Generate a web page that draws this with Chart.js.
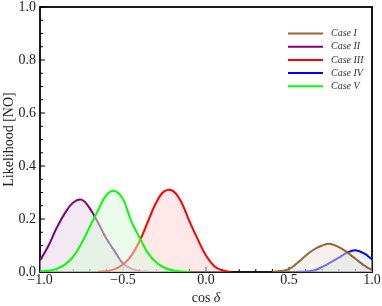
<!DOCTYPE html>
<html>
<head>
<meta charset="utf-8">
<script src="https://cdn.jsdelivr.net/npm/chart.js@4.4.1/dist/chart.umd.min.js"></script>
<style>
  html, body { margin: 0; padding: 0; background: #fff; }
  #wrap { width: 382px; height: 306px; }
</style>
</head>
<body>
<div id="wrap"><canvas id="likelihood" width="382" height="306"></canvas></div>
<script>
const cosDelta = [
  -1.00, -0.95, -0.90, -0.85, -0.80, -0.75, -0.70, -0.65, -0.60, -0.55,
  -0.50, -0.45, -0.40, -0.35, -0.30, -0.25, -0.20, -0.15, -0.10, -0.05,
   0.00,  0.05,  0.10,  0.15,  0.20,  0.25,  0.30,  0.35,  0.40,  0.45,
   0.50,  0.55,  0.60,  0.65,  0.70,  0.75,  0.80,  0.85,  0.90,  0.95,
   1.00
];

const caseI = [
  null, null, null, null, null, null, null, null, null, null,
  null, null, null, null, null, null, null, null, null, null,
  null, null, null, null, null, null, null, null, 0.001, 0.004,
  0.011, 0.034, 0.061, 0.085, 0.100, 0.106, 0.094, 0.074, 0.050, 0.026,
  0.007
];
const caseII = [
  0.044, 0.098, 0.166, 0.222, 0.262, 0.273, 0.240, 0.186, 0.126, 0.078,
  0.032, 0.013, 0.004, 0.001, 0.000, 0.000, null, null, null, null,
  null, null, null, null, null, null, null, null, null, null,
  null, null, null, null, null, null, null, null, null, null,
  null
];
const caseIII = [
  null, null, null, null, null, null, null, 0.001, 0.003, 0.011,
  0.028, 0.062, 0.117, 0.190, 0.262, 0.305, 0.306, 0.265, 0.192, 0.124,
  0.062, 0.022, 0.006, 0.001, null, null, null, null, null, null,
  null, null, null, null, null, null, null, null, null, null,
  null
];
const caseIV = [
  null, null, null, null, null, null, null, null, null, null,
  null, null, null, null, null, null, null, null, null, null,
  null, null, null, null, null, null, null, null, null, null,
  null, 0.001, 0.002, 0.006, 0.019, 0.036, 0.054, 0.073, 0.082, 0.071,
  0.048
];
const caseV = [
  0.002, 0.005, 0.012, 0.028, 0.058, 0.108, 0.171, 0.233, 0.290, 0.306,
  0.275, 0.192, 0.130, 0.072, 0.036, 0.016, 0.006, 0.002, 0.000, null,
  null, null, null, null, null, null, null, null, null, null,
  null, null, null, null, null, null, null, null, null, null,
  null
];

const caseNames = ['Case I', 'Case II', 'Case III', 'Case IV', 'Case V'];
const xMinorTicks = [-0.9, -0.8, -0.7, -0.6, -0.4, -0.3, -0.2, -0.1, 0.1, 0.2, 0.3, 0.4, 0.6, 0.7, 0.8, 0.9];
const yMinorTicks = [0.05, 0.1, 0.15, 0.25, 0.3, 0.35, 0.45, 0.5, 0.55, 0.65, 0.7, 0.75, 0.85, 0.9, 0.95];

const lineColors = ['#996633', '#800080', '#ff0000', '#0000ff', '#00ff00'];
const fillColors = [
  'rgba(237,227,217,0.5)',
  'rgba(231,213,233,0.5)',
  'rgba(255,209,209,0.5)',
  'rgba(217,231,255,0.5)',
  'rgba(217,249,217,0.5)'
];
// higher order is painted first, so green and brown fills wash over the lines below them
const drawOrder = [4, 3, 2, 5, 1];

const serif = '"Liberation Serif", "DejaVu Serif", serif';

const frameAndTicks = {
  id: 'frameAndTicks',
  beforeDatasetsDraw(chart) {
    const { ctx, chartArea: a, scales: { x, y } } = chart;
    ctx.save();
    ctx.strokeStyle = '#000';
    ctx.lineWidth = 1;
    ctx.beginPath();
    x.ticks.forEach(t => {
      const px = x.getPixelForValue(t.value);
      ctx.moveTo(px, a.bottom); ctx.lineTo(px, a.bottom - 5);
    });
    xMinorTicks.forEach(v => {
      const px = x.getPixelForValue(v);
      ctx.moveTo(px, a.bottom); ctx.lineTo(px, a.bottom - 3);
    });
    y.ticks.forEach(t => {
      const py = y.getPixelForValue(t.value);
      ctx.moveTo(a.left, py); ctx.lineTo(a.left + 5, py);
    });
    yMinorTicks.forEach(v => {
      const py = y.getPixelForValue(v);
      ctx.moveTo(a.left, py); ctx.lineTo(a.left + 3, py);
    });
    ctx.stroke();
    ctx.lineWidth = 1.8;
    ctx.strokeRect(a.left, a.top, a.right - a.left, a.bottom - a.top);
    ctx.restore();
  },
  afterDraw(chart) {
    const { ctx, chartArea: a } = chart;
    ctx.save();
    ctx.fillStyle = '#222';
    // y title
    ctx.font = '14px ' + serif;
    ctx.textAlign = 'center';
    ctx.textBaseline = 'middle';
    ctx.translate(9, (a.top + a.bottom) / 2);
    ctx.rotate(-Math.PI / 2);
    ctx.fillText('Likelihood [NO]', 0, 0);
    ctx.restore();

    // x title: "cos " upright, delta italic
    ctx.save();
    ctx.fillStyle = '#222';
    ctx.textBaseline = 'middle';
    ctx.textAlign = 'left';
    ctx.font = '14px ' + serif;
    const w1 = ctx.measureText('cos ').width;
    ctx.font = 'italic 14px ' + serif;
    const w2 = ctx.measureText('δ').width;
    const x0 = (a.left + a.right) / 2 - (w1 + w2) / 2;
    ctx.font = '14px ' + serif;
    ctx.fillText('cos ', x0, 298);
    ctx.font = 'italic 14px ' + serif;
    ctx.fillText('δ', x0 + w1, 298);
    ctx.restore();

    // legend inside the frame, top right
    ctx.save();
    ctx.font = 'italic 10px ' + serif;
    ctx.textBaseline = 'middle';
    ctx.textAlign = 'left';
    chart.data.datasets.forEach((ds, i) => {
      const ly = 33.5 + i * 13.2;
      ctx.strokeStyle = ds.borderColor;
      ctx.lineWidth = 2;
      ctx.beginPath();
      ctx.moveTo(288, ly); ctx.lineTo(323, ly);
      ctx.stroke();
      ctx.fillStyle = '#333';
      ctx.fillText(ds.label, 331, ly);
    });
    ctx.restore();
  }
};

const seriesValues = [caseI, caseII, caseIII, caseIV, caseV];

new Chart(document.getElementById('likelihood'), {
  type: 'line',
  data: {
    labels: cosDelta,
    datasets: seriesValues.map((vals, i) => ({
      label: caseNames[i],
      data: vals,
      borderColor: lineColors[i],
      backgroundColor: fillColors[i],
      borderWidth: 2,
      pointRadius: 0,
      tension: 0.4,
      fill: 'origin',
      spanGaps: false,
      order: drawOrder[i]
    }))
  },
  options: {
    responsive: false,
    devicePixelRatio: 1,
    animation: false,
    layout: { padding: { top: 7, right: 10, left: 0, bottom: 0 } },
    plugins: {
      legend: { display: false },
      tooltip: { enabled: false }
    },
    scales: {
      x: {
        type: 'linear',
        min: -1,
        max: 1,
        grid: { display: false, drawTicks: false },
        border: { display: false },
        ticks: {
          stepSize: 0.5,
          padding: 0,
          color: '#222',
          font: { family: serif, size: 14 },
          maxRotation: 0,
          callback: v => v.toFixed(1).replace('-', '\u2212')
        },
        afterFit: scale => {
          scale.height = 34;
          scale.paddingLeft = 0;
          scale.paddingRight = 0;
        }
      },
      y: {
        min: 0,
        max: 1,
        grid: { display: false, drawTicks: false },
        border: { display: false },
        ticks: {
          stepSize: 0.2,
          padding: 4,
          color: '#222',
          font: { family: serif, size: 14 },
          callback: v => v.toFixed(1)
        },
        afterFit: scale => {
          scale.width = 40;
          scale.paddingTop = 0;
          scale.paddingBottom = 0;
        }
      }
    }
  },
  plugins: [frameAndTicks]
});
</script>
</body>
</html>
